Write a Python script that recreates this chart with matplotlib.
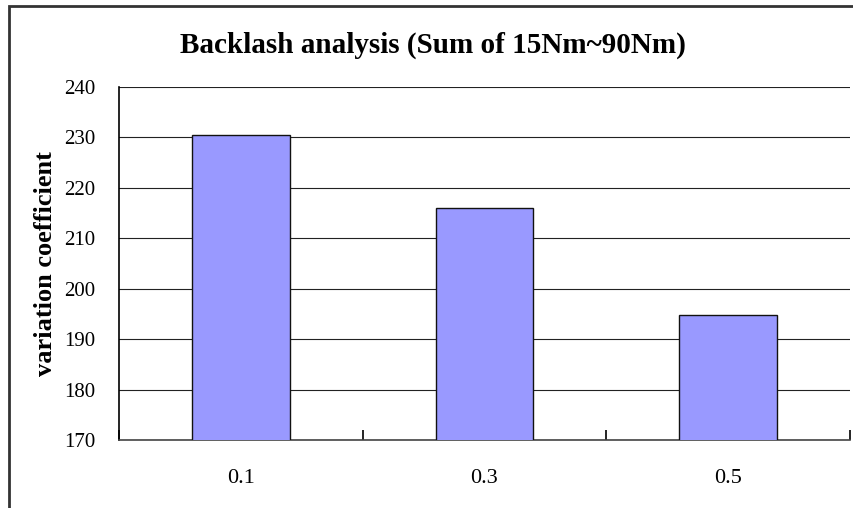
import matplotlib.pyplot as plt
from matplotlib.patches import Rectangle

# Данные
categories = ["0.1", "0.3", "0.5"]
values = [230.4, 216.0, 194.8]
y_ticks = [170, 180, 190, 200, 210, 220, 230, 240]

plt.rcParams['font.family'] = 'Liberation Serif'

fig = plt.figure(figsize=(8.54, 5.08), dpi=100)
ax = fig.add_axes([119 / 854, 1 - 440 / 508, (850 - 119) / 854, (440 - 87) / 508])

x = list(range(len(categories)))
ax.bar(x, values, width=0.4, color="#9999ff", edgecolor="#111111", linewidth=1, zorder=3)

ax.set_xlim(-0.5, len(categories) - 0.5)
ax.set_ylim(170, 240)
ax.set_yticks(y_ticks)
ax.set_xticks(x)
ax.set_xticklabels(categories)

# Сетка и оси
ax.grid(axis="y", color="#222222", linewidth=0.8, zorder=1)
ax.set_axisbelow(True)
for s in ["top", "right"]:
    ax.spines[s].set_visible(False)
ax.spines["left"].set_linewidth(1.2)
ax.spines["bottom"].set_linewidth(1.2)
ax.spines["bottom"].set_color("#444444")

ax.tick_params(axis="y", length=0, pad=17, labelsize=15)
ax.tick_params(axis="x", length=0, pad=21, labelsize=16)
# деления между категориями
ax.set_xticks([-0.5, 0.5, 1.5, 2.5], minor=True)
ax.tick_params(axis="x", which="minor", direction="in", length=7, width=1.2)

ax.set_ylabel("variation coefficient", fontsize=19, fontweight="bold", labelpad=5)
fig.text(0.507, 1 - 45 / 508, "Backlash analysis (Sum of 15Nm~90Nm)",
         ha="center", va="center", fontsize=21, fontweight="bold")

# рамка вокруг диаграммы
fig.patches.append(Rectangle((9 / 854, -0.1), 1.2, 1 - 6 / 508 + 0.1, transform=fig.transFigure,
                             fill=False, edgecolor="#333333", linewidth=2))

plt.savefig("out.png", dpi=100)
